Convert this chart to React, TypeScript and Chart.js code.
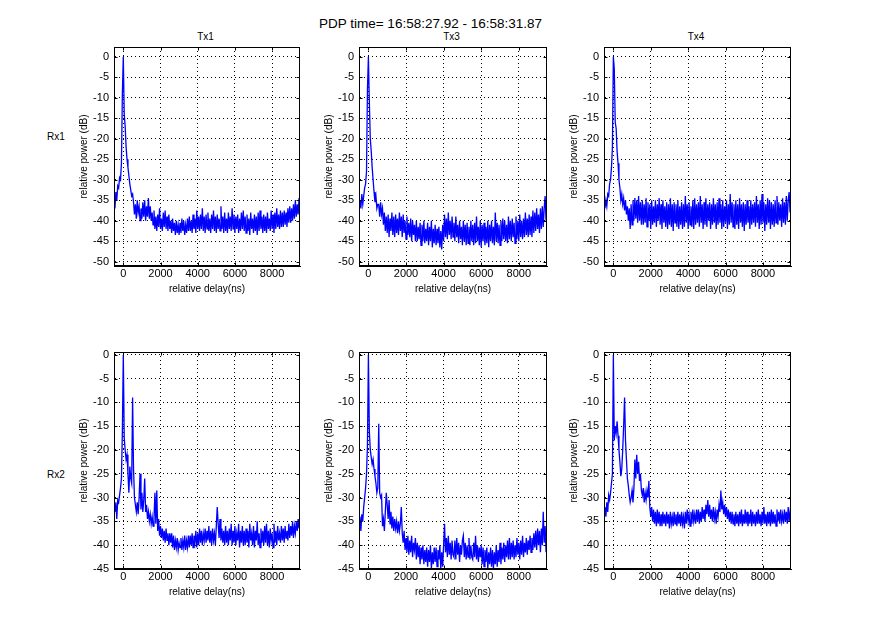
import React, { useEffect, useRef } from 'react';
import { Chart, registerables } from 'chart.js';

Chart.register(...registerables);

// ---- data ----
const delayNs = [
  -450, -400, -350, -300, -250, -200, -150, -100, -50, 0, 50, 100, 150, 200, 250, 300, 350, 400, 450, 500,
  550, 600, 650, 700, 750, 800, 850, 900, 950, 1000, 1050, 1100, 1150, 1200, 1250, 1300, 1350, 1400, 1450, 1500,
  1550, 1600, 1650, 1700, 1750, 1800, 1850, 1900, 1950, 2000, 2050, 2100, 2150, 2200, 2250, 2300, 2350, 2400, 2450, 2500,
  2550, 2600, 2650, 2700, 2750, 2800, 2850, 2900, 2950, 3000, 3050, 3100, 3150, 3200, 3250, 3300, 3350, 3400, 3450, 3500,
  3550, 3600, 3650, 3700, 3750, 3800, 3850, 3900, 3950, 4000, 4050, 4100, 4150, 4200, 4250, 4300, 4350, 4400, 4450, 4500,
  4550, 4600, 4650, 4700, 4750, 4800, 4850, 4900, 4950, 5000, 5050, 5100, 5150, 5200, 5250, 5300, 5350, 5400, 5450, 5500,
  5550, 5600, 5650, 5700, 5750, 5800, 5850, 5900, 5950, 6000, 6050, 6100, 6150, 6200, 6250, 6300, 6350, 6400, 6450, 6500,
  6550, 6600, 6650, 6700, 6750, 6800, 6850, 6900, 6950, 7000, 7050, 7100, 7150, 7200, 7250, 7300, 7350, 7400, 7450, 7500,
  7550, 7600, 7650, 7700, 7750, 7800, 7850, 7900, 7950, 8000, 8050, 8100, 8150, 8200, 8250, 8300, 8350, 8400, 8450, 8500,
  8550, 8600, 8650, 8700, 8750, 8800, 8850, 8900, 8950, 9000, 9050, 9100, 9150, 9200, 9250, 9300, 9350, 9400, 9450, 9500,
];

const rx1tx1 = [
  -37, -33, -35, -31.5, -32, -29.5, -30, -26, -9, 0, -14, -17, -22, -25, -27, -29, -31, -32.5, -34, -33.5,
  -35.5, -38.5, -36, -39.5, -35, -38, -36.5, -40, -37, -39.5, -35.5, -39, -35, -40, -36.5, -39, -34.5, -39.5, -36.5, -40,
  -38, -41, -37.5, -42, -39, -42.5, -38.5, -41.5, -37, -42, -39.5, -42.5, -38, -41.5, -37.5, -42, -39, -42.5, -38.5, -42,
  -40, -43, -39.5, -42.5, -40.5, -43.5, -40, -43, -41, -43.5, -40.5, -43, -39.5, -42.5, -40, -43.5, -41, -43, -39.5, -42.5,
  -39, -42.5, -40, -43, -38.5, -42, -39.5, -43, -37.5, -42, -39, -42.5, -38.5, -42, -37, -42.5, -39, -43, -38.5, -42,
  -38, -42.5, -39.5, -43, -38.5, -42, -37.5, -42.5, -39, -43, -38.5, -42, -39.5, -42.5, -36.5, -42, -39, -43, -38, -42.5,
  -39.5, -43, -38, -42, -39, -42.5, -37, -42, -38.5, -43, -39, -42, -38.5, -43, -39.5, -42.5, -38, -42, -37.5, -42.5,
  -39, -43, -38.5, -42.5, -39.5, -43.5, -38, -42, -39.5, -43, -38.5, -42.5, -39, -43.5, -38, -42.5, -37.5, -42, -39, -43,
  -38.5, -42.5, -39, -43, -38, -42, -39.5, -42.5, -37.5, -42, -38.5, -43, -38, -42, -37, -41.5, -38.5, -42, -37.5, -41.5,
  -38, -41.5, -37.5, -41, -38, -41.5, -37, -40.5, -36.5, -40.5, -37, -40, -36, -39.5, -35, -39, -36, -38.5, -34.5, -37.5,
];

const rx1tx3 = [
  -35, -37, -33.5, -36, -34, -32, -31, -28, -8, 0, -11, -20, -23, -27, -30, -33, -35.5, -34, -37, -36,
  -36, -39, -35.5, -38.5, -37, -41, -38, -42.5, -39, -43, -38.5, -44, -39.5, -42.5, -38, -43.5, -39, -44, -38.5, -43,
  -39.5, -43.5, -38, -42.5, -39, -44, -38.5, -43, -40, -44.5, -39, -43.5, -40.5, -44, -39.5, -45, -40, -43.5, -41, -45,
  -40, -45, -41.5, -44.5, -40.5, -46, -41, -45, -40, -45.5, -42, -45, -40.5, -46, -41.5, -45, -40, -46.5, -42, -45.5,
  -41, -46, -42, -45.5, -41.5, -46.5, -42.5, -47, -41, -45, -38.5, -44, -39.5, -44.5, -38, -43.5, -40, -44.5, -39, -44,
  -40.5, -45, -39, -44, -41, -45.5, -40, -44.5, -41.5, -46, -40, -45, -41, -46, -40.5, -45.5, -41.5, -46, -40, -45,
  -41, -46, -40.5, -45.5, -39, -45, -41.5, -46, -40, -46.5, -41, -45, -40.5, -46, -41.5, -45.5, -40, -46.5, -41, -45,
  -40, -45.5, -41.5, -46, -38, -45, -40.5, -45.5, -41, -46, -40, -45, -39.5, -44.5, -40, -45, -41, -45.5, -39, -44.5,
  -40, -45, -39.5, -44, -40.5, -45.5, -39, -44.5, -40, -45, -38.5, -44, -40, -44.5, -39.5, -44, -38, -43.5, -39.5, -44,
  -38.5, -43.5, -39, -44, -37.5, -43, -38, -42.5, -37, -42, -38.5, -43, -37, -42, -36.5, -41.5, -37, -34, -40, -36.5,
];

const rx1tx4 = [
  -37, -35, -36.5, -33.5, -34, -31, -30, -27, -22, 0, -3, -16, -17.5, -23, -26, -30, -32, -35, -33.5, -36,
  -34.5, -37.5, -35, -38.5, -36.5, -40, -37, -42, -36, -41, -35, -40, -34.5, -39.5, -35, -40.5, -34, -40, -35.5, -41,
  -35, -41, -36, -40.5, -34.5, -41.5, -35.5, -40, -36, -42, -35, -41, -36.5, -40.5, -35, -41.5, -36, -40, -34.5, -41,
  -36, -42, -35, -40.5, -36.5, -41.5, -35.5, -42, -36, -41, -34.5, -41.5, -36, -42.5, -35.5, -40.5, -36, -41.5, -35, -42,
  -36.5, -41, -35.5, -42, -36, -41.5, -34, -40.5, -36, -42, -35.5, -41, -36.5, -41.5, -35, -42, -34.5, -41, -36, -40.5,
  -35.5, -41.5, -34, -40.5, -36, -42, -35.5, -41, -34.5, -41.5, -36, -40, -35.5, -42, -36, -41, -34.5, -40.5, -36, -42,
  -35.5, -41, -34.5, -40.5, -36, -42, -35, -41.5, -36.5, -40.5, -35, -42, -36, -41, -33.5, -40.5, -35.5, -41.5, -36, -42,
  -35, -41, -36, -42, -34.5, -40.5, -36, -41.5, -35.5, -42.5, -36, -41, -35, -40.5, -36.5, -42, -35, -41, -36, -40.5,
  -35.5, -41.5, -34, -40.5, -36, -42, -35, -41, -33.5, -40.5, -35.5, -42.5, -36, -41, -34.5, -40.5, -35, -42, -35.5, -41,
  -36, -41.5, -35, -40.5, -34, -41, -35.5, -40, -36, -41.5, -34.5, -40.5, -35.5, -41, -34, -40, -35, -33, -38, -33.5,
];

const rx2tx1 = [
  -33, -31, -34.5, -30.5, -31, -29.5, -28, -26, -16, 0, -17.5, -20, -22, -21, -25, -29, -23.5, -26, -27, -9,
  -24, -30, -31.5, -33, -31, -33.5, -30, -25, -32.5, -29, -33, -30.5, -26, -33, -31.5, -34.5, -33, -35, -33.5, -35.5,
  -34, -36, -34.5, -29, -35.5, -28.5, -37, -34.5, -38, -36, -38.5, -36.5, -39, -37, -39.5, -36.5, -39, -37.5, -40, -37.5,
  -39.5, -37.5, -40.5, -38, -41, -39, -40.5, -38.5, -41, -39.5, -40.5, -38.5, -41, -39, -40.5, -38, -41, -39, -40.5, -38,
  -40.5, -38, -40, -37.5, -40.5, -38, -39.5, -37, -40.5, -37.5, -40, -36.5, -39.5, -37, -40, -37.5, -39, -36.5, -39.5, -37,
  -39, -36, -39.5, -37, -40, -36.5, -39, -37.5, -40, -36, -32, -35.5, -38.5, -34.5, -39, -36.5, -39.5, -37, -40, -36,
  -39.5, -37, -40, -36.5, -39, -35.5, -40, -37, -39.5, -36, -40, -37.5, -39, -35.5, -40.5, -37, -39.5, -36, -40, -37,
  -40, -36.5, -39.5, -37, -40.5, -35.5, -39, -37.5, -40, -36, -40.5, -37, -39, -35, -40, -37.5, -40.5, -36.5, -39.5, -37,
  -40, -36, -39.5, -35.5, -40, -37, -40.5, -36.5, -39, -37.5, -40.5, -35.5, -39.5, -37, -40, -36, -39, -37.5, -39.5, -36,
  -39, -36.5, -39.5, -36, -38.5, -37, -39, -35.5, -38.5, -36, -38, -35, -38.5, -36, -37.5, -35, -37, -34.5, -36.5, -33,
];

const rx2tx3 = [
  -34, -37, -33.5, -35, -32, -30, -28, -25, -19, 0, -16, -20, -21.5, -23, -22, -24, -25.5, -27, -29, -28,
  -14.5, -29, -30, -29.5, -36, -34.5, -37, -33, -29, -31.5, -34.5, -30.5, -35.5, -33, -36.5, -34, -37, -34.5, -36.5, -35,
  -37.5, -35, -37, -35.5, -32, -37.5, -39.5, -37, -41, -38.5, -41.5, -38, -42, -39, -41.5, -38, -42.5, -39.5, -41, -38.5,
  -43, -39.5, -42.5, -40, -44, -40.5, -43, -40, -44, -41, -43.5, -40.5, -44.5, -41, -43.5, -40, -45, -41.5, -44, -40.5,
  -43.5, -40.5, -44.5, -41, -43, -40, -45, -41.5, -44.5, -40, -35.5, -41.5, -38.5, -42.5, -38, -42, -39.5, -43, -39, -42,
  -42.5, -39, -43, -38.5, -42, -39.5, -43.5, -40, -42, -39, -38, -42.5, -39.5, -43, -40, -42.5, -38.5, -43, -40, -42.5,
  -43, -39.5, -42.5, -38, -43, -40, -43.5, -40.5, -42.5, -40, -44, -40.5, -44.5, -41, -43.5, -40.5, -45, -41.5, -44, -40.5,
  -44.5, -41, -45, -41.5, -44, -40, -44.5, -41, -43.5, -39.5, -44, -40.5, -43, -39.5, -43.5, -40, -42.5, -39, -43, -38.5,
  -43, -39.5, -42.5, -39, -43, -40, -42.5, -38.5, -42, -39.5, -43, -39, -42, -38, -42.5, -39.5, -41.5, -38.5, -42, -39,
  -41, -38, -41.5, -38.5, -41, -37.5, -40.5, -37, -41, -36.5, -40, -37, -41.5, -36.5, -40, -33, -39.5, -36, -41.5, -35,
];

const rx2tx4 = [
  -32, -34, -31, -33, -29.5, -30.5, -29, -27, -25, 0, -18, -15, -16.5, -14, -17, -20, -22.5, -25.5, -24, -20,
  -15, -9, -18, -22, -26, -27.5, -29.5, -31, -30, -28.5, -31, -28, -22, -26, -21, -25, -22.5, -26.5, -25, -28.5,
  -29.5, -28, -31, -29, -30.5, -28.5, -30, -26.5, -32, -34, -32, -35, -32.5, -35.5, -33, -36, -32.5, -35.5, -33, -36,
  -33.5, -36, -33, -35.5, -33.5, -36, -33, -35.5, -33.5, -36.5, -33, -35.5, -34, -36, -33, -35.5, -33.5, -36, -33, -35.5,
  -33.5, -36, -33, -35.5, -34, -36.5, -33, -35.5, -32.5, -35, -33.5, -36, -33, -35.5, -32.5, -35, -33.5, -35.5, -32.5, -35,
  -32.5, -35.5, -33, -35, -32, -34.5, -32.5, -35, -31.5, -33.5, -30.5, -34, -31.5, -34.5, -32.5, -35, -32, -34.5, -33, -35.5,
  -32.5, -34, -31.5, -33, -28.5, -32.5, -31, -33.5, -31.5, -34, -32, -34.5, -32.5, -35, -33, -35.5, -33, -35.5, -33.5, -36,
  -33, -35.5, -33.5, -36, -33, -35.5, -32.5, -36, -33.5, -35.5, -32.5, -35.5, -33, -36, -33.5, -35.5, -32.5, -36, -33, -35.5,
  -33.5, -36, -33, -35.5, -32.5, -35.5, -33.5, -36, -33, -35.5, -32, -35.5, -33.5, -36, -33, -35.5, -33, -36, -32.5, -35.5,
  -33, -35.5, -33.5, -36, -32.5, -35, -33, -35.5, -32.5, -35, -33.5, -35.5, -32.5, -35, -33, -35.5, -32, -35, -33, -31,
];

const xTicks = [0, 2000, 4000, 6000, 8000];
const yTicksRx1 = [-50, -45, -40, -35, -30, -25, -20, -15, -10, -5, 0];
const yTicksRx2 = [-45, -40, -35, -30, -25, -20, -15, -10, -5, 0];
const txLabels = ['Tx1', 'Tx3', 'Tx4'];
const rxLabels = ['Rx1', 'Rx2'];
const figureTitle = 'PDP time= 16:58:27.92 - 16:58:31.87';

const FONT = "'Liberation Sans', Arial, Helvetica, sans-serif";

// layout (pixels)
const colLeft = [114, 359, 604];
const colWidth = [186, 188, 187];
const rowTop = [47, 352];
const rowHeight = [219, 217];
const PAD_L = 4, PAD_T = 14, PAD_R = 10, PAD_B = 2, Y_W = 36, X_H = 29;

const framePlugin = {
  id: 'matlabFrame',
  afterDraw(chart: any) {
    const { ctx, chartArea: a, scales } = chart;
    const l = Math.round(a.left) + 0.5;
    const r = Math.round(a.right) - 0.5;
    const t = Math.round(a.top) + 0.5;
    const b = Math.round(a.bottom) - 0.5;
    ctx.save();
    ctx.strokeStyle = '#000';
    ctx.lineWidth = 1;
    ctx.setLineDash([]);
    ctx.strokeRect(l, t, r - l, b - t);
    const tl = 3;
    ctx.beginPath();
    for (const v of xTicks) {
      const px = Math.round(scales.x.getPixelForValue(v)) + 0.5;
      ctx.moveTo(px, b); ctx.lineTo(px, b - tl);
      ctx.moveTo(px, t); ctx.lineTo(px, t + tl);
    }
    for (const tk of scales.y.ticks) {
      const py = Math.round(scales.y.getPixelForValue(tk.value)) + 0.5;
      ctx.moveTo(l, py); ctx.lineTo(l + tl, py);
      ctx.moveTo(r, py); ctx.lineTo(r - tl, py);
    }
    ctx.stroke();
    ctx.restore();
  },
};

type PlotProps = {
  left: number; top: number; width: number; height: number;
  values: number[]; yMin: number; yMax: number; yTicks: number[];
};

function Plot({ left, top, width, height, values, yMin, yMax, yTicks }: PlotProps) {
  const ref = useRef<HTMLCanvasElement>(null);
  const cw = PAD_L + Y_W + width + PAD_R;
  const ch = PAD_T + height + X_H + PAD_B;
  useEffect(() => {
    if (!ref.current) return;
    const tickFont = { family: FONT, size: 11 };
    const labelFont = { family: FONT, size: 10 };
    const chart = new Chart(ref.current, {
      type: 'line',
      data: {
        datasets: [{
          data: delayNs.map((x, i) => ({ x, y: values[i] })),
          borderColor: '#0000ff',
          borderWidth: 1.3,
          pointRadius: 0,
          tension: 0,
          fill: false,
        }],
      },
      options: {
        animation: false,
        responsive: false,
        maintainAspectRatio: false,
        events: [],
        layout: { padding: { left: PAD_L, top: PAD_T, right: PAD_R, bottom: PAD_B } },
        plugins: { legend: { display: false }, tooltip: { enabled: false }, title: { display: false } },
        scales: {
          x: {
            type: 'linear',
            min: -500,
            max: 9500,
            afterBuildTicks: (s: any) => { s.ticks = xTicks.map((v) => ({ value: v })); },
            afterFit: (s: any) => { s.height = X_H; },
            ticks: { color: '#000', font: tickFont, padding: 1, maxRotation: 0, autoSkip: false, callback: (v: any) => String(v) },
            grid: { color: '#000', lineWidth: 1, drawTicks: false },
            border: { display: true, color: '#000', width: 1, dash: [1, 3] },
            title: { display: true, text: 'relative delay(ns)', color: '#000', font: labelFont, padding: 0 },
          },
          y: {
            type: 'linear',
            min: yMin,
            max: yMax,
            afterBuildTicks: (s: any) => { s.ticks = yTicks.map((v) => ({ value: v })); },
            afterFit: (s: any) => { s.width = Y_W; },
            ticks: { color: '#000', font: tickFont, padding: 5, autoSkip: false, callback: (v: any) => String(v) },
            grid: { color: '#000', lineWidth: 1, drawTicks: false },
            border: { display: true, color: '#000', width: 1, dash: [1, 3] },
            title: { display: true, text: 'relative power (dB)', color: '#000', font: labelFont, padding: 0 },
          },
        },
      },
      plugins: [framePlugin],
    } as any);
    return () => chart.destroy();
  }, []);
  return (
    <canvas
      ref={ref}
      width={cw}
      height={ch}
      style={{ position: 'absolute', left: left - PAD_L - Y_W, top: top - PAD_T, width: cw, height: ch }}
    />
  );
}

const textStyle: React.CSSProperties = {
  position: 'absolute',
  fontFamily: FONT,
  color: '#000',
  whiteSpace: 'nowrap',
  lineHeight: 1,
};

export default function App() {
  const series = [[rx1tx1, rx1tx3, rx1tx4], [rx2tx1, rx2tx3, rx2tx4]];
  const yCfg = [
    { min: -51.05, max: 2.37, ticks: yTicksRx1 },
    { min: -45, max: 0.57, ticks: yTicksRx2 },
  ];
  return (
    <div style={{ position: 'fixed', left: 0, top: 0, width: 874, height: 639, background: '#fff', overflow: 'hidden' }}>
      <div style={{ ...textStyle, left: 230.5, width: 400, top: 17, textAlign: 'center', fontSize: 13.5 }}>{figureTitle}</div>
      {txLabels.map((t, c) => (
        <div key={t} style={{ ...textStyle, left: colLeft[c] + colWidth[c] / 2 - 1.5 - 50, width: 100, top: 32, textAlign: 'center', fontSize: 10 }}>{t}</div>
      ))}
      {rxLabels.map((r, i) => (
        <div key={r} style={{ ...textStyle, left: 47, top: i === 0 ? 131.5 : 470, fontSize: 10 }}>{r}</div>
      ))}
      {series.map((row, ri) =>
        row.map((vals, ci) => (
          <Plot
            key={`${ri}-${ci}`}
            left={colLeft[ci]}
            top={rowTop[ri]}
            width={colWidth[ci]}
            height={rowHeight[ri]}
            values={vals}
            yMin={yCfg[ri].min}
            yMax={yCfg[ri].max}
            yTicks={yCfg[ri].ticks}
          />
        ))
      )}
    </div>
  );
}
